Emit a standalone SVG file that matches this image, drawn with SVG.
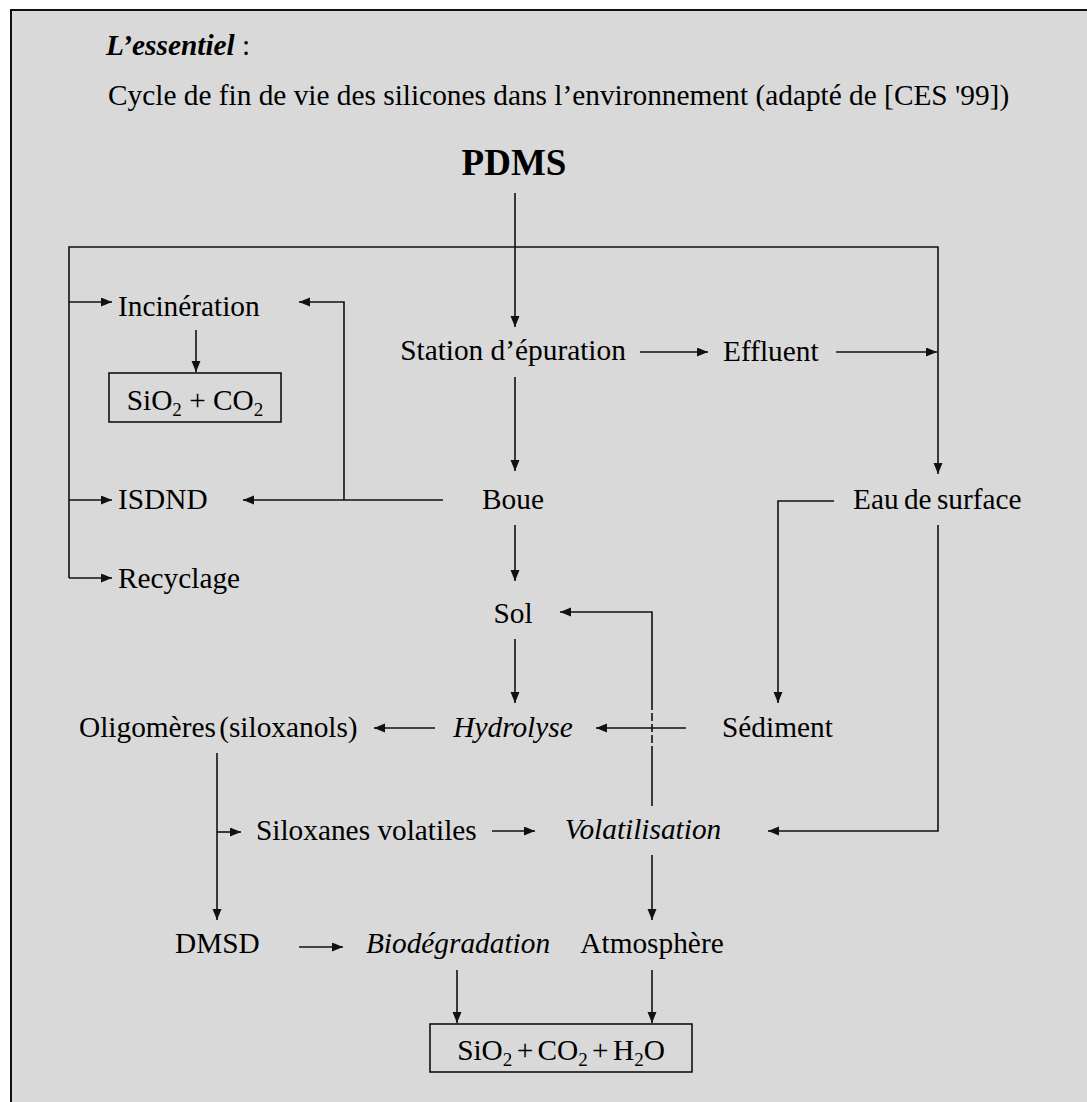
<svg xmlns="http://www.w3.org/2000/svg" width="1087" height="1102" viewBox="0 0 1087 1102">
  <style>
    text { font-family: "Liberation Serif", "Times New Roman", serif; font-size: 29.33px; fill: #000; }
    .it { font-style: italic; }
    .sub { font-size: 19px; }
    .big { font-size: 37px; font-weight: bold; }
    .conn line, .conn polyline, .conn path { stroke: #111; stroke-width: 1.6; fill: none; }
    .box { fill: none; stroke: #111; stroke-width: 1.6; }
  </style>
  <defs>
    <marker id="arr" markerUnits="userSpaceOnUse" markerWidth="12" markerHeight="10" refX="11" refY="4.5" orient="auto">
      <path d="M0,0 L11,4.5 L0,9 z" fill="#111"/>
    </marker>
  </defs>

  <!-- panel -->
  <rect x="11" y="10" width="1090" height="1110" fill="#d9d9d9" stroke="#111" stroke-width="2"/>

  <!-- heading -->
  <g id="heading">
    <text x="106" y="55"><tspan font-weight="bold" font-style="italic">L’essentiel</tspan> :</text>
    <text x="108" y="105">Cycle de fin de vie des silicones dans l’environnement (adapté de [CES '99])</text>
  </g>

  <!-- connectors -->
  <g class="conn">
    <!-- PDMS trunk and distribution bus -->
    <line x1="515" y1="193" x2="515" y2="327" marker-end="url(#arr)"/>
    <polyline points="69,578 69,247 938,247 938,474" marker-end="url(#arr)"/>
    <line x1="69" y1="302" x2="112" y2="302" marker-end="url(#arr)"/>
    <line x1="69" y1="500" x2="112" y2="500" marker-end="url(#arr)"/>
    <line x1="69" y1="578" x2="112" y2="578" marker-end="url(#arr)"/>
    <!-- incineration -->
    <line x1="196" y1="330" x2="196" y2="372" marker-end="url(#arr)"/>
    <!-- treatment plant -->
    <line x1="640" y1="352" x2="708" y2="352" marker-end="url(#arr)"/>
    <line x1="836" y1="352" x2="937" y2="352" marker-end="url(#arr)"/>
    <line x1="515" y1="377" x2="515" y2="471" marker-end="url(#arr)"/>
    <!-- sludge routes -->
    <line x1="443" y1="500" x2="243" y2="500" marker-end="url(#arr)"/>
    <polyline points="344,500 344,302 299,302" marker-end="url(#arr)"/>
    <line x1="515" y1="525" x2="515" y2="581" marker-end="url(#arr)"/>
    <!-- surface water -->
    <polyline points="834,501 778,501 778,703" marker-end="url(#arr)"/>
    <polyline points="938,525 938,831 768,831" marker-end="url(#arr)"/>
    <!-- soil / hydrolysis -->
    <line x1="515" y1="639" x2="515" y2="703" marker-end="url(#arr)"/>
    <line x1="686" y1="728" x2="596" y2="728" marker-end="url(#arr)"/>
    <line x1="435" y1="728" x2="374" y2="728" marker-end="url(#arr)"/>
    <!-- volatilisation back to soil, dashed where it crosses -->
    <polyline points="652,702 652,612 560,612" marker-end="url(#arr)"/>
    <line x1="652" y1="702" x2="652" y2="752" stroke-dasharray="8 3"/>
    <line x1="652" y1="752" x2="652" y2="806"/>
    <!-- oligomers -->
    <line x1="217" y1="753" x2="217" y2="920" marker-end="url(#arr)"/>
    <line x1="217" y1="832" x2="241" y2="832" marker-end="url(#arr)"/>
    <line x1="492" y1="831" x2="535" y2="831" marker-end="url(#arr)"/>
    <!-- final degradation -->
    <line x1="652" y1="855" x2="652" y2="920" marker-end="url(#arr)"/>
    <line x1="299" y1="947" x2="343" y2="947" marker-end="url(#arr)"/>
    <line x1="457" y1="970" x2="457" y2="1023" marker-end="url(#arr)"/>
    <line x1="652" y1="970" x2="652" y2="1023" marker-end="url(#arr)"/>
  </g>

  <!-- nodes -->
  <g id="pdms"><text class="big" x="514" y="175" text-anchor="middle">PDMS</text></g>
  <g id="incineration"><text x="118" y="316">Incinération</text></g>
  <g id="sio2-co2">
    <rect class="box" x="109" y="373" width="172" height="49"/>
    <text x="195" y="410" text-anchor="middle">SiO<tspan class="sub" dy="6">2</tspan><tspan dy="-6"> + CO</tspan><tspan class="sub" dy="6">2</tspan></text>
  </g>
  <g id="isdnd"><text x="118" y="509">ISDND</text></g>
  <g id="recyclage"><text x="118" y="588">Recyclage</text></g>
  <g id="station"><text x="513" y="360" text-anchor="middle">Station d’épuration</text></g>
  <g id="effluent"><text x="723" y="361">Effluent</text></g>
  <g id="boue"><text x="513" y="509" text-anchor="middle">Boue</text></g>
  <g id="eau-surface"><text x="853" y="509" word-spacing="-2">Eau de surface</text></g>
  <g id="sol"><text x="513" y="623" text-anchor="middle">Sol</text></g>
  <g id="oligomeres"><text x="79" y="737" word-spacing="-4">Oligomères (siloxanols)</text></g>
  <g id="hydrolyse"><text class="it" x="513" y="737" text-anchor="middle">Hydrolyse</text></g>
  <g id="sediment"><text x="722" y="737">Sédiment</text></g>
  <g id="siloxanes"><text x="256" y="840">Siloxanes volatiles</text></g>
  <g id="volatilisation"><text class="it" x="643" y="839" text-anchor="middle">Volatilisation</text></g>
  <g id="dmsd"><text x="175" y="953">DMSD</text></g>
  <g id="biodegradation"><text class="it" x="458" y="953" text-anchor="middle">Biodégradation</text></g>
  <g id="atmosphere"><text x="652" y="953" text-anchor="middle">Atmosphère</text></g>
  <g id="produits">
    <rect class="box" x="430" y="1024" width="262" height="48"/>
    <text x="561" y="1060" text-anchor="middle" word-spacing="-3">SiO<tspan class="sub" dy="6">2</tspan><tspan dy="-6"> + CO</tspan><tspan class="sub" dy="6">2</tspan><tspan dy="-6"> + H</tspan><tspan class="sub" dy="6">2</tspan><tspan dy="-6">O</tspan></text>
  </g>
</svg>
